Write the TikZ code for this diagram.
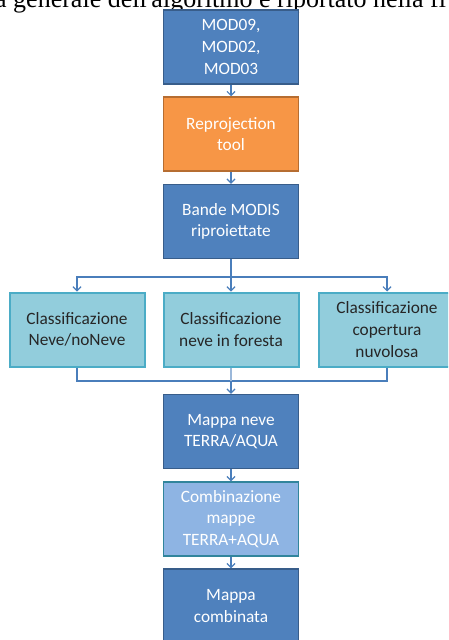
\documentclass[tikz,border=0pt]{standalone}
\usepackage{fontspec}
\setmainfont{Carlito}
\newfontfamily\hdrfont{Liberation Serif}
\usetikzlibrary{arrows.meta}
\definecolor{dblue}{HTML}{4F81BD}
\definecolor{dblueb}{HTML}{385D8A}
\definecolor{orng}{HTML}{F79646}
\definecolor{orngb}{HTML}{B66D31}
\definecolor{ltteal}{HTML}{92CDDC}
\definecolor{tealb}{HTML}{4BACC6}
\definecolor{lblue}{HTML}{8EB4E3}
\definecolor{lblueb}{HTML}{31859C}
\definecolor{linec}{HTML}{4A7EBB}
\tikzset{
  box/.style={draw, line width=1.5pt, minimum width=135pt, minimum height=74pt, inner sep=0pt, align=center,
    font=\fontsize{17.3}{21.6}\selectfont},
  darkbox/.style={box, fill=dblue, draw=dblueb, text=white},
  orangebox/.style={box, fill=orng, draw=orngb, text=white},
  classbox/.style={box, fill=ltteal, draw=tealb, line width=2pt, text=black!85},
  combbox/.style={box, fill=lblue, draw=lblueb, text=white},
  link/.style={draw=linec, line width=1.2pt},
  conn/.style={link, -{Straight Barb[length=4pt,width=8pt,line width=1.2pt]}},
}
\begin{document}
\begin{tikzpicture}[x=1pt,y=-1pt]
\useasboundingbox (0,0) rectangle (448,640);
\begin{scope}
\clip (0,0) rectangle (448,640);
\node[anchor=base west, inner sep=0pt, font=\hdrfont\fontsize{26}{26}\selectfont] (hdr) at (-5,7) {a generale dell'algoritmo è riportato nella fi};
\node[darkbox] (b1) at (231,47) {MOD09,\\MOD02,\\MOD03};
\node[orangebox] (b2) at (231,134) {Reprojection\\tool};
\node[darkbox] (b3) at (231,221.5) {Bande MODIS\\riproiettate};
\node[classbox] (c1) at (77,329.5) {Classificazione\\Neve/noNeve};
\node[classbox] (c2) at (231,329.5) {Classificazione\\neve in foresta};
\node[classbox, minimum width=136pt] (c3) at (387,329.5) {Classificazione\\copertura\\nuvolosa};
\node[darkbox] (m1) at (231,431.5) {Mappa neve\\TERRA/AQUA};
\node[combbox] (m2) at (231,519) {Combinazione\\mappe\\TERRA+AQUA};
\node[darkbox] (m3) at (231,606) {Mappa\\combinata};
\coordinate (split) at (231,277);
\coordinate (merge) at (231,381);
\draw[conn] (b1) -- (b2);
\draw[conn] (b2) -- (b3);
\draw[link] (b3) -- (split);
\draw[conn] (split) -| (c1.north);
\draw[conn] (split) -- (c2);
\draw[conn] (split) -| (c3.north);
\draw[link] (c1) |- (merge);
\draw[link] (c3) |- (merge);
\draw[link, draw=linec!55] (c2) -- (merge);
\draw[conn] (merge) -- (m1);
\draw[conn] (m1) -- (m2);
\draw[conn] (m2) -- (m3);
\end{scope}
\end{tikzpicture}
\end{document}
